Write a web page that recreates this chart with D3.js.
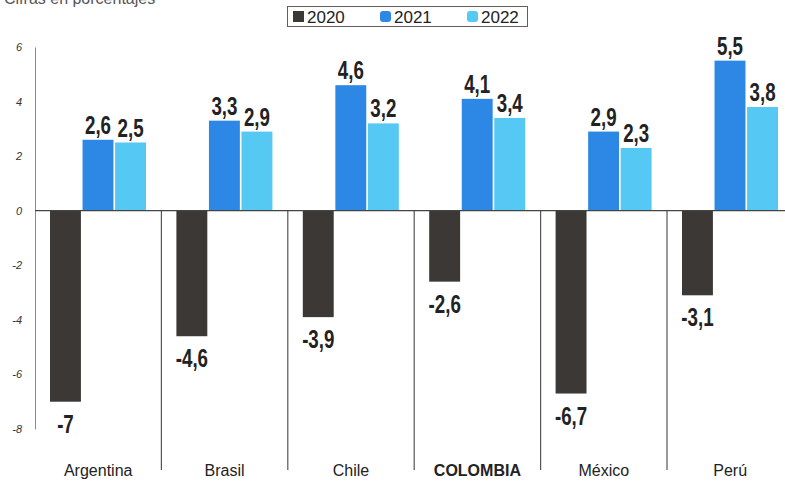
<!DOCTYPE html>
<html>
<head>
<meta charset="utf-8">
<script src="https://cdn.jsdelivr.net/npm/d3@7"></script>
<style>
  body { margin: 0; background: #fff; }
  svg { display: block; }
</style>
</head>
<body>
<div id="canvas"></div>
<script>
const countries = ["Argentina", "Brasil", "Chile", "COLOMBIA", "México", "Perú"];
const years = ["2020", "2021", "2022"];
const v2020 = [-7, -4.6, -3.9, -2.6, -6.7, -3.1];
const v2021 = [2.6, 3.3, 4.6, 4.1, 2.9, 5.5];
const v2022 = [2.5, 2.9, 3.2, 3.4, 2.3, 3.8];
const yTicks = [6, 4, 2, 0, -2, -4, -6, -8];
const colors = ["#3b3835", "#2c88e4", "#55c8f3"];

const width = 785;
const height = 481;

const svg = d3.select("#canvas").append("svg")
  .attr("width", width)
  .attr("height", height);

const data = [];
countries.forEach((c, i) => {
  [v2020, v2021, v2022].forEach((s, j) => {
    data.push({ country: c, year: years[j], value: s[i], k: j });
  });
});

const xScale = d3.scaleBand().domain(countries).range([35, 35 + 6 * 126.4]);
const xSub = d3.scaleBand().domain(years).range([15, 111]).paddingInner(0.05);
const yScale = d3.scaleLinear().domain([-8, 6]).range([429, 47]);
const color = d3.scaleOrdinal().domain(years).range(colors);

const fmt = (v) => String(v).replace(".", ",");

// subtitle (cut at top)
svg.append("text")
  .attr("x", 4).attr("y", 4)
  .attr("font-family", "Liberation Sans, Arial, sans-serif")
  .attr("font-size", 16)
  .attr("fill", "#555")
  .text("Cifras en porcentajes");

// y axis
const yAxis = svg.append("g")
  .attr("transform", "translate(35,0)")
  .call(d3.axisLeft(yScale).tickValues(yTicks).tickFormat((d) => String(d))
    .tickSizeInner(0).tickSizeOuter(0).tickPadding(13));
yAxis.select(".domain").attr("stroke", "#8a8a9a").attr("stroke-width", 1);
yAxis.selectAll("text")
  .attr("font-family", "Liberation Sans, Arial, sans-serif")
  .attr("font-style", "italic")
  .attr("font-size", 11)
  .attr("fill", "#333");

// separators between countries
svg.append("g").selectAll("line")
  .data(countries.slice(1))
  .join("line")
  .attr("x1", (d) => xScale(d)).attr("x2", (d) => xScale(d))
  .attr("y1", yScale(0)).attr("y2", 470)
  .attr("stroke", "#555").attr("stroke-width", 1.2);

// bars
svg.append("g").selectAll("rect")
  .data(data)
  .join("rect")
  .attr("x", (d) => xScale(d.country) + xSub(d.year))
  .attr("width", xSub.bandwidth())
  .attr("y", (d) => yScale(Math.max(0, d.value)))
  .attr("height", (d) => Math.abs(yScale(d.value) - yScale(0)))
  .attr("fill", (d) => color(d.year));

// zero line
svg.append("line")
  .attr("x1", 35).attr("x2", width)
  .attr("y1", yScale(0)).attr("y2", yScale(0))
  .attr("stroke", "#444").attr("stroke-width", 1.2);

// value labels (condensed look via horizontal squeeze)
svg.append("g").selectAll("text")
  .data(data)
  .join("text")
  .attr("transform", (d) => {
    const x = xScale(d.country) + xSub(d.year) + xSub.bandwidth() / 2;
    const y = d.value >= 0 ? yScale(d.value) - 6 : yScale(d.value) + 31;
    return `translate(${x},${y}) scale(0.72,1)`;
  })
  .attr("text-anchor", "middle")
  .attr("font-family", "Liberation Sans, Arial, sans-serif")
  .attr("font-weight", "bold")
  .attr("font-size", 26)
  .attr("fill", "#222")
  .text((d) => fmt(d.value));

// country labels
svg.append("g").selectAll("text")
  .data(countries)
  .join("text")
  .attr("x", (d) => xScale(d) + xScale.bandwidth() / 2)
  .attr("y", 476)
  .attr("text-anchor", "middle")
  .attr("font-family", "Liberation Sans, Arial, sans-serif")
  .attr("font-size", 16)
  .attr("font-weight", (d) => d === "COLOMBIA" ? "bold" : "normal")
  .attr("fill", "#222")
  .text((d) => d);

// legend
const legend = svg.append("g");
legend.append("rect")
  .attr("x", 287.5).attr("y", 6.5).attr("width", 240).attr("height", 20)
  .attr("fill", "#fff").attr("stroke", "#6a5a5a").attr("stroke-width", 1);
const legX = [293, 380, 467];
const item = legend.selectAll("g")
  .data(years)
  .join("g")
  .attr("transform", (d, i) => `translate(${legX[i]},0)`);
item.append("rect")
  .attr("x", 0).attr("y", 11).attr("width", 11).attr("height", 11)
  .attr("rx", (d, i) => i === 0 ? 0 : 3)
  .attr("fill", (d) => color(d));
item.append("text")
  .attr("x", 14).attr("y", 22.5)
  .attr("font-family", "Liberation Sans, Arial, sans-serif")
  .attr("font-size", 17)
  .attr("fill", "#222")
  .text((d) => d);
</script>
</body>
</html>
